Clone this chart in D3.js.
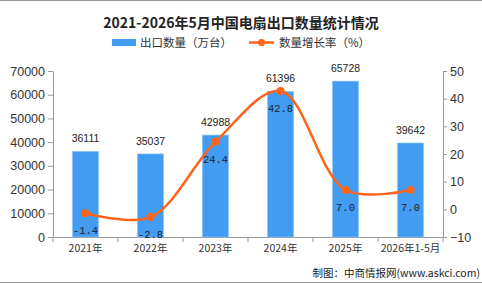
<!DOCTYPE html>
<html>
<head>
<meta charset="utf-8">
<script src="https://cdn.jsdelivr.net/npm/d3@7"></script>
<style>
body{margin:0;background:#fff;}
svg{display:block;font-family:"Noto Sans CJK SC","Noto Sans",sans-serif;}
</style>
</head>
<body>
<svg id="chart"></svg>
<script>
// categories and values
var years = ["2021年","2022年","2023年","2024年","2025年","2026年1-5月"];
var exports = [36111,35037,42988,61396,65728,39642];
var growth = [-1.4,-2.8,24.4,42.8,7.0,7.0];
var leftTicks = [0,10000,20000,30000,40000,50000,60000,70000];
var rightTicks = [-10,0,10,20,30,40,50];

var screen = {width:482, height:284};
var margins = {top:71, bottom:47, left:53, right:39};
var graph = {
    width:screen.width-margins.left-margins.right,
    height:screen.height-margins.top-margins.bottom
};

var svg = d3.select("#chart")
    .attr("width",screen.width)
    .attr("height",screen.height);

// frame lines top and bottom
svg.append("line").attr("x1",0).attr("x2",screen.width).attr("y1",0.5).attr("y2",0.5)
    .attr("stroke","#999").attr("stroke-width",1);
svg.append("line").attr("x1",0).attr("x2",screen.width).attr("y1",282.5).attr("y2",282.5)
    .attr("stroke","#999").attr("stroke-width",1);

// title
svg.append("text")
    .attr("x",241).attr("y",28)
    .attr("text-anchor","middle")
    .attr("font-size",14).attr("font-weight","bold")
    .attr("fill","#222")
    .text("2021-2026年5月中国电扇出口数量统计情况");

// legend
var legend = svg.append("g");
legend.append("rect").attr("x",112).attr("y",39).attr("width",24).attr("height",7).attr("fill","#419cf2");
legend.append("text").attr("x",140).attr("y",47).attr("font-size",11.5).attr("fill","#333").text("出口数量（万台）");
legend.append("line").attr("x1",249).attr("x2",274).attr("y1",42.5).attr("y2",42.5)
    .attr("stroke","#ff6219").attr("stroke-width",2.5);
legend.append("circle").attr("cx",261.5).attr("cy",42.5).attr("r",3.5).attr("fill","#ff6219");
legend.append("text").attr("x",279).attr("y",47).attr("font-size",11.5).attr("fill","#333").text("数量增长率（%）");

// scales
var xScale = d3.scaleBand()
    .domain(years)
    .range([0,graph.width])
    .paddingInner(0.6).paddingOuter(0.3);
var xAxisScale = d3.scaleBand().domain(years).range([0,graph.width]);
var yScale = d3.scaleLinear().domain([0,70000]).range([graph.height,0]);
var y2Scale = d3.scaleLinear().domain([-10,50]).range([graph.height,0]);

var g = svg.append("g")
    .attr("transform","translate("+margins.left+","+margins.top+")");

// axes
var xAxis = d3.axisBottom(xAxisScale).tickSize(0).tickPadding(8);
var yAxis = d3.axisLeft(yScale).tickValues(leftTicks).tickFormat(d3.format("d"))
    .tickSize(5).tickPadding(3).tickSizeOuter(0);
var y2Axis = d3.axisRight(y2Scale).tickValues(rightTicks).tickFormat(d3.format("d"))
    .tickSize(4).tickPadding(3).tickSizeOuter(0);

var gx = g.append("g").attr("transform","translate(0,"+graph.height+")").call(xAxis);
// small ticks between categories
gx.selectAll(".sep")
    .data(d3.range(years.length+1))
    .enter().append("line")
    .attr("x1",function(i){return i*xAxisScale.step();})
    .attr("x2",function(i){return i*xAxisScale.step();})
    .attr("y1",0).attr("y2",5)
    .attr("stroke","#999");
var gy = g.append("g").call(yAxis);
var gy2 = g.append("g").attr("transform","translate("+graph.width+",0)").call(y2Axis);

[gx,gy,gy2].forEach(function(a){
    a.select(".domain").attr("stroke","#999");
    a.selectAll(".tick line").attr("stroke","#999");
    a.selectAll(".tick text").attr("fill","#333").attr("font-family","Liberation Sans, Arial, sans-serif");
});
gy.selectAll(".tick text").attr("font-size",12.5);
gy2.selectAll(".tick text").attr("font-size",12.5);
gx.selectAll(".tick text").attr("font-size",10.5).attr("font-family","Noto Sans CJK SC, sans-serif");

// bars
g.selectAll(".bar")
    .data(exports)
    .enter()
    .append("rect")
    .attr("x",function(d,i){return xScale(years[i]);})
    .attr("y",function(d){return yScale(d);})
    .attr("width",xScale.bandwidth())
    .attr("height",function(d){return graph.height-yScale(d);})
    .attr("fill","#419cf2")
    .attr("stroke","#8cc4f7")
    .attr("stroke-width",0.6);

g.selectAll(".barlabel")
    .data(exports)
    .enter()
    .append("text")
    .attr("x",function(d,i){return xScale(years[i])+xScale.bandwidth()/2;})
    .attr("y",function(d){return yScale(d)-9;})
    .attr("text-anchor","middle")
    .attr("font-size",10.5)
    .attr("font-family","Liberation Sans, Arial, sans-serif")
    .attr("fill","#222")
    .text(function(d){return d;});

// growth line
var cx = function(i){return xAxisScale(years[i])+xAxisScale.bandwidth()/2;};
var line = d3.line()
    .x(function(d,i){return cx(i);})
    .y(function(d){return y2Scale(d);})
    .curve(d3.curveCatmullRom.alpha(0.5));

g.append("path")
    .datum(growth)
    .attr("d",line)
    .attr("fill","none")
    .attr("stroke","#ff6219")
    .attr("stroke-width",2.5);

g.selectAll(".pt")
    .data(growth)
    .enter()
    .append("circle")
    .attr("cx",function(d,i){return cx(i);})
    .attr("cy",function(d){return y2Scale(d);})
    .attr("r",4)
    .attr("fill","#ff6219");

g.selectAll(".ptlabel")
    .data(growth)
    .enter()
    .append("text")
    .attr("x",function(d,i){return cx(i);})
    .attr("y",function(d){return y2Scale(d)+21;})
    .attr("text-anchor","middle")
    .attr("font-size",10.5)
    .attr("font-family","Liberation Mono, DejaVu Sans Mono, monospace")
    .attr("fill","#222")
    .text(function(d){return d.toFixed(1);});

// source
svg.append("text")
    .attr("x",480).attr("y",277)
    .attr("text-anchor","end")
    .attr("font-size",10.5)
    .attr("fill","#222")
    .text("制图：中商情报网(www.askci.com)");
</script>
</body>
</html>
